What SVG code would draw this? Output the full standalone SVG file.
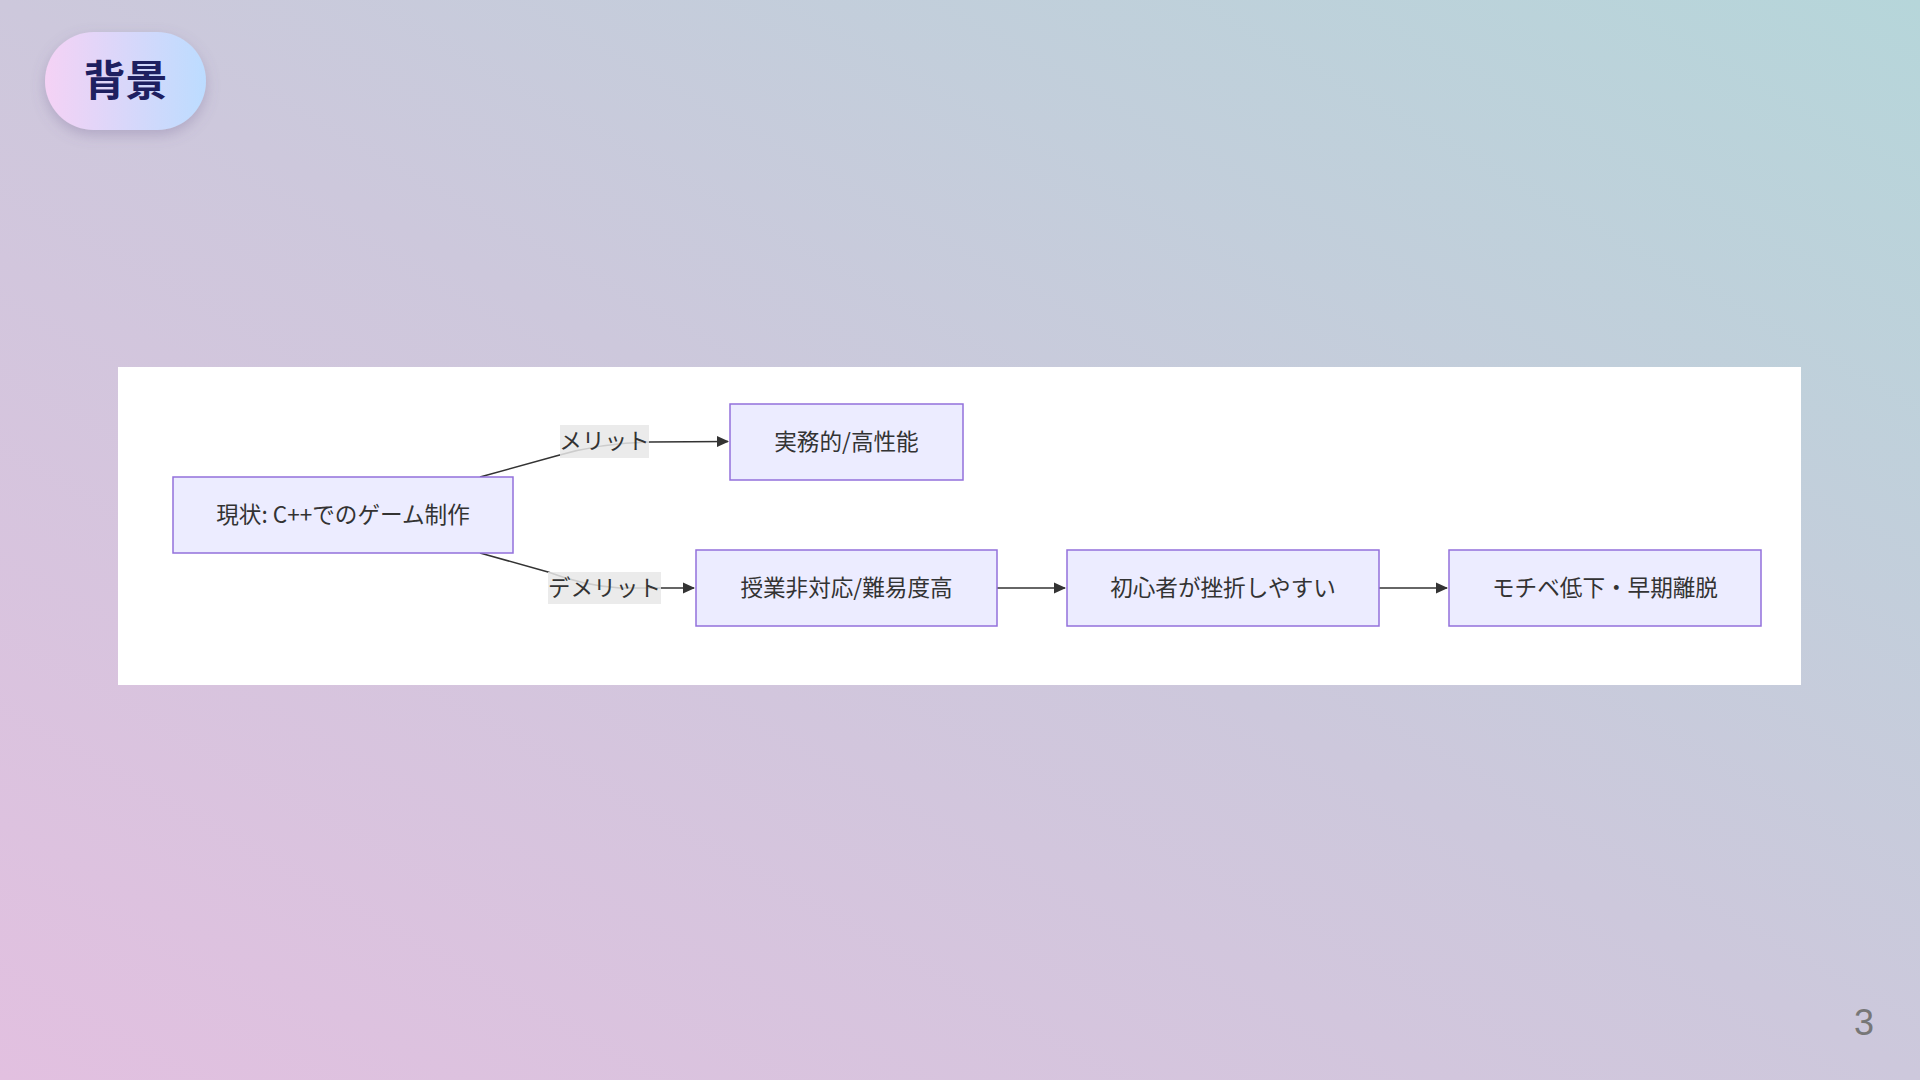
<svg xmlns="http://www.w3.org/2000/svg" width="1920" height="1080" viewBox="0 0 1920 1080">
  <defs>
    <linearGradient id="bg" x1="0" y1="1" x2="1" y2="0" gradientUnits="objectBoundingBox">
      <stop offset="0" stop-color="#e2c0e0"/>
      <stop offset="0.5" stop-color="#cdc8dc"/>
      <stop offset="1" stop-color="#b6d6da"/>
    </linearGradient>
    <linearGradient id="pill" x1="0" y1="0" x2="1" y2="0">
      <stop offset="0" stop-color="#f5d2f5"/>
      <stop offset="1" stop-color="#bcdcff"/>
    </linearGradient>
    <filter id="shadow" x="-30%" y="-30%" width="160%" height="180%">
      <feDropShadow dx="0" dy="5" stdDeviation="7" flood-color="#6a5a8a" flood-opacity="0.3"/>
    </filter>
    <marker id="arrow" viewBox="0 0 12 12" refX="11" refY="6" markerWidth="12" markerHeight="12" markerUnits="userSpaceOnUse" orient="auto">
      <path d="M0,0.5 L12,6 L0,11.5 Z" fill="#333333"/>
    </marker>
  </defs>
  <style>
    .node rect { fill: #ECECFF; stroke: #9370DB; stroke-width: 1.5; }
    .node text { font-family: "Noto Sans CJK JP", "Noto Sans", sans-serif; font-size: 22.6px; fill: #333333; text-anchor: middle; }
    .edge { fill: none; stroke: #333333; stroke-width: 1.5; }
    .lbl rect { fill: #e8e8e8; opacity: 0.85; }
    .lbl text { font-family: "Noto Sans CJK JP", "Noto Sans", sans-serif; font-size: 22.6px; fill: #333333; text-anchor: middle; }
  </style>
  <rect x="0" y="0" width="1920" height="1080" fill="url(#bg)"/>

  <g id="title">
    <rect x="45" y="32" width="161" height="98" rx="49" fill="url(#pill)" filter="url(#shadow)"/>
    <text x="125.5" y="96" font-family="'Noto Sans CJK JP', sans-serif" font-size="42" font-weight="bold" fill="#1e2060" text-anchor="middle">背景</text>
  </g>

  <rect id="panel" x="118" y="367" width="1683" height="318" fill="#ffffff"/>

  <g id="connectors">
    <path class="edge" d="M480,477 L556,456 Q600,443 650,442 L728,441.5" marker-end="url(#arrow)"/>
    <path class="edge" d="M480,553 L548,572 Q585,586 620,588 L694,588" marker-end="url(#arrow)"/>
    <path class="edge" d="M997,588 L1065,588" marker-end="url(#arrow)"/>
    <path class="edge" d="M1379,588 L1447,588" marker-end="url(#arrow)"/>
  </g>

  <g id="label-merit" class="lbl">
    <rect x="560" y="425" width="89" height="33"/>
    <text x="604.5" y="449">メリット</text>
  </g>
  <g id="label-demerit" class="lbl">
    <rect x="548" y="572" width="113" height="32"/>
    <text x="604.5" y="596">デメリット</text>
  </g>

  <g id="node-current" class="node">
    <rect x="173" y="477" width="340" height="76"/>
    <text x="343" y="523">現状: C++でのゲーム制作</text>
  </g>
  <g id="node-merit" class="node">
    <rect x="730" y="404" width="233" height="76"/>
    <text x="846.5" y="450">実務的/高性能</text>
  </g>
  <g id="node-demerit" class="node">
    <rect x="696" y="550" width="301" height="76"/>
    <text x="846.5" y="596">授業非対応/難易度高</text>
  </g>
  <g id="node-beginner" class="node">
    <rect x="1067" y="550" width="312" height="76"/>
    <text x="1223" y="596">初心者が挫折しやすい</text>
  </g>
  <g id="node-motivation" class="node">
    <rect x="1449" y="550" width="312" height="76"/>
    <text x="1605" y="596">モチベ低下・早期離脱</text>
  </g>

  <text id="page" x="1864" y="1035" font-family="'Liberation Sans', Arial, sans-serif" font-size="36" fill="#777777" text-anchor="middle">3</text>
</svg>
